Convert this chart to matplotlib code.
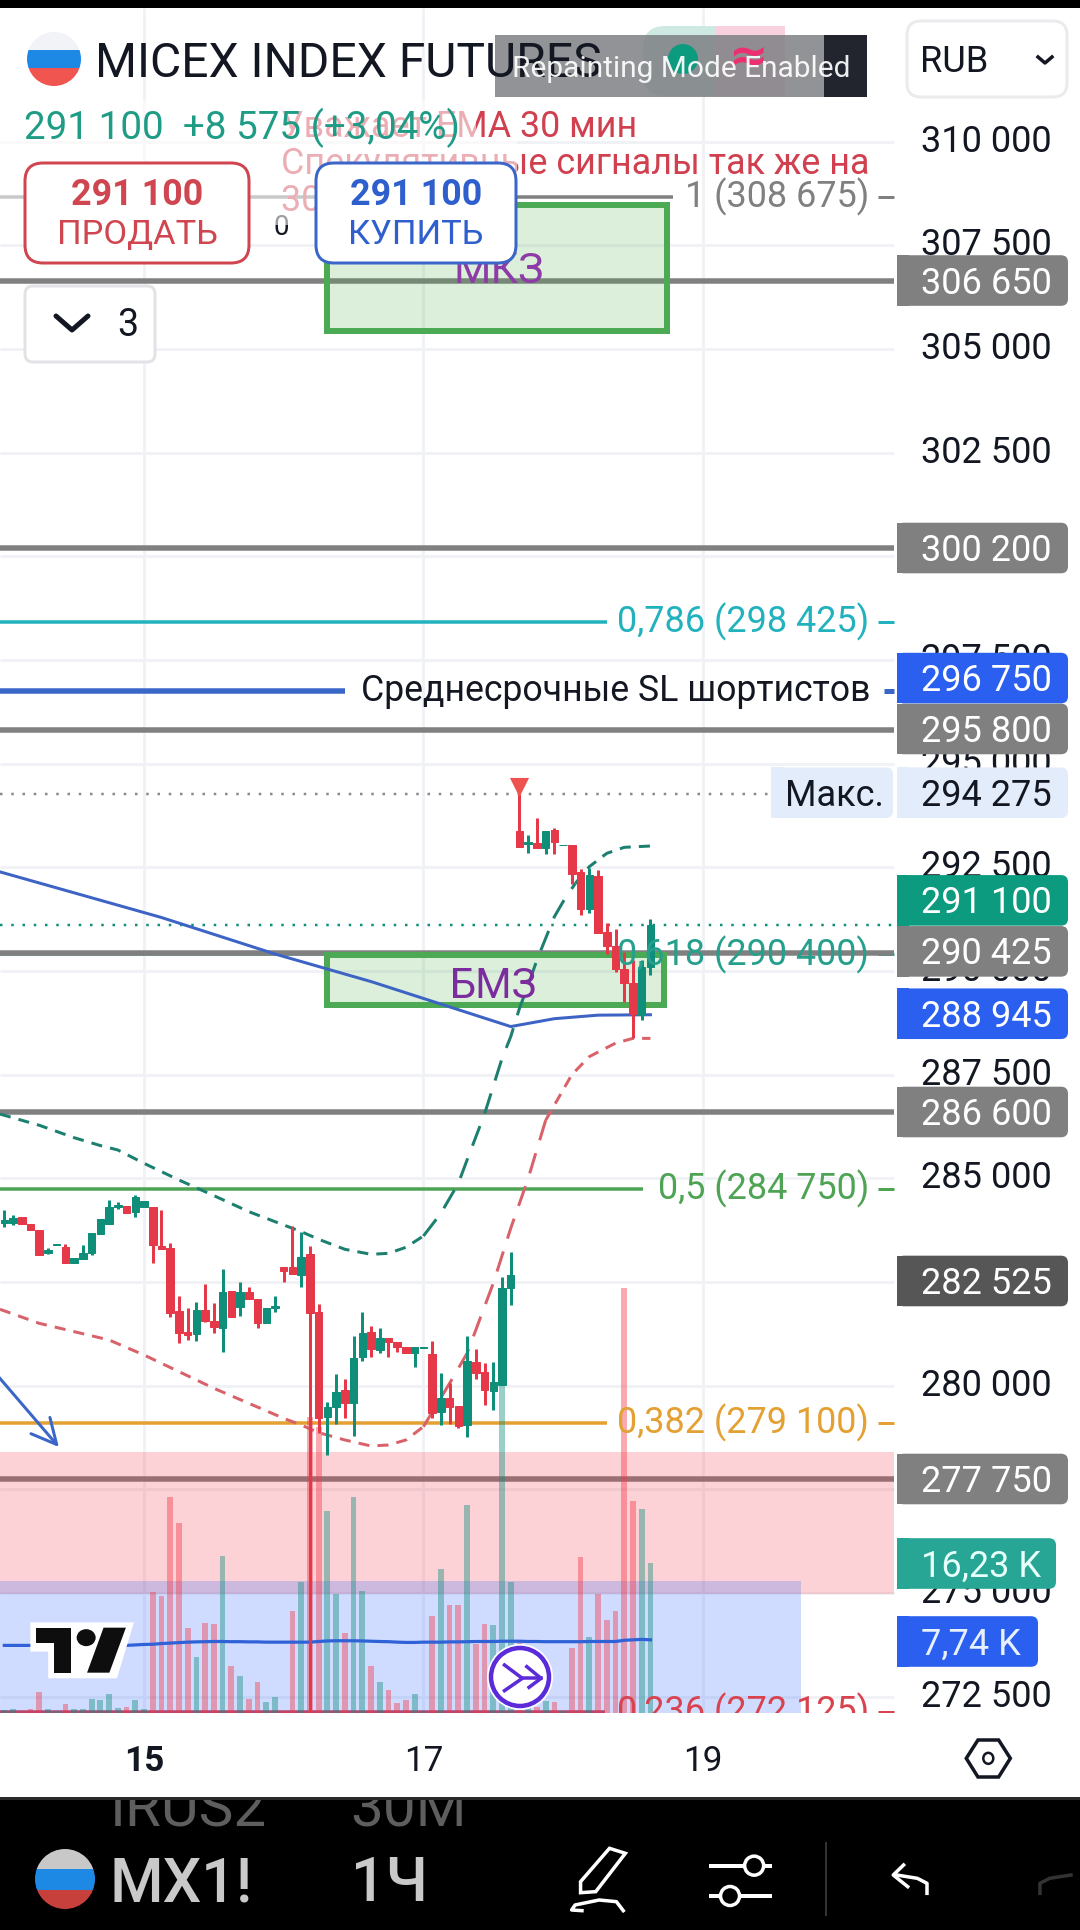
import matplotlib
matplotlib.use("Agg")
import matplotlib.pyplot as plt
from matplotlib.patches import Rectangle, FancyBboxPatch, Ellipse, Polygon, Circle
from matplotlib.transforms import blended_transform_factory, Bbox, TransformedBbox
from matplotlib.ticker import FuncFormatter

plt.rcParams['font.family'] = ['Roboto', 'DejaVu Sans']

# ---------- data ----------
first_bar = -16
opens = [283915,283930,284075,283900,283755,283190,283395,283355,282950,283045,283190,283660,283900,284315,284340,284195,284315,
         284300,283375,283315,281800,281305,281240,281825,281570,281385,282290,281890,282270,282090,281505,281865,
         282870,282855,282670,283170,281770,279255,279495,279895,279575,280685,281305,280860,281145,281060,280940,280780,280910,
         280755,279375,279695,279510,279045,280580,280340,279880,280015,282365,
         293385,293060,293080,292960,293400,293030,293030,292395,291495,292290,290950,290610,290040,289720,288940,290090]
highs = [284235,284115,284075,283900,283755,283315,283410,283410,283070,283395,283675,284010,284480,284440,284340,284600,284460,
         284300,284235,283435,282165,281865,282010,282445,281985,282805,282290,282510,282370,282090,281865,282165,
         282870,283850,283715,283375,281970,279615,280280,280155,281200,281770,281440,281385,281145,281060,280940,280925,280935,
         281085,280300,280055,279510,281200,280875,280555,280580,282630,283225,
         294275,293280,293680,293385,293440,293040,293030,292450,292475,292435,291150,291005,290465,290265,290265,291245]
lows = [283835,283875,283900,283755,283150,283175,283395,282950,282950,283045,283160,283660,283900,284255,284175,284075,284315,
        282965,283290,281665,281040,281100,281085,281545,281265,280820,281650,281690,282090,281385,281505,281785,
        282510,282695,282390,272125,278850,278330,279075,279230,278785,280605,280700,280795,280685,280820,280780,280445,280910,
        279215,279045,279075,278970,278770,280170,279535,279415,280015,281945,
        292980,292855,292960,292820,292820,293030,292100,291350,291405,290925,290410,289985,289260,288375,288820,289905]
closes = [283995,284050,283900,283755,283150,283275,283410,282950,283070,283190,283675,284010,284300,284360,284175,284560,284460,
          283395,283290,281760,281280,281225,281825,281570,281425,282250,281650,282270,282090,281505,281865,281920,
          282775,282695,283110,281760,279230,279495,279855,279575,280660,281265,280885,281145,281045,280940,280780,280925,280935,
          279335,279695,279495,279030,280595,280315,279895,280080,282350,282670,
          292980,293115,292960,293385,293120,293040,292340,291495,292315,290925,290605,290040,289720,288965,290090,291100]
volumes = [0.3,0.4,0.2,0.4,2.3,0.4,0.2,1.0,0.4,0.4,1.5,1.4,2.1,0.5,0.65,1.45,0.4,
           13.1,12.6,23.3,20.5,9.2,6.0,9.7,9.6,17.0,5.1,4.0,1.5,3.3,1.2,1.7,
           0.2,11.0,14.1,32.0,30.9,21.8,12.8,8.6,23.3,13.2,5.1,3.3,2.5,1.1,1.4,2.0,0.2,
           10.5,15.6,11.7,11.7,22.5,7.4,9.6,9.5,35.4,14.1,
           7.6,2.5,0.7,1.3,1.2,0.2,7.0,16.8,8.2,12.8,10.0,11.0,45.9,22.9,22.0,16.23]
volume_ma = [7.3,7.3,7.3,7.3,7.3,7.25,7.25,7.25,7.25,7.25,7.25,7.3,7.3,7.3,7.3,7.35,7.4,
             7.42,7.5,7.55,7.6,7.65,7.68,7.7,7.72,7.72,7.7,7.7,7.68,7.68,7.65,7.65,
             7.65,7.65,7.65,7.65,7.72,7.78,7.8,7.8,7.8,7.78,7.75,7.72,7.7,7.65,7.62,7.62,7.65,
             7.65,7.65,7.68,7.68,7.7,7.72,7.72,7.72,7.75,7.75,
             7.75,7.72,7.72,7.7,7.7,7.7,7.7,7.7,7.72,7.72,7.72,7.72,7.85,7.9,7.95,7.9]

upper_x = [-16.5,-12,-8,-5,-3,0,4,8,12,16,18,20,23,26,28,30,32,34,36,37,39,41,42,43,44,45,46,47,48,49.4,51,53,55,58]
upper_y = [286550,286280,285980,285790,285684,285362,284960,284583,284197,283875,283715,283530,283289,283168,283192,283337,283610,
           284157,284880,285443,286550,287890,288416,289100,289662,290265,290788,291310,291672,292114,292516,292837,292982,293014]
lower_x = [-16.5,-12,-8,-4,0,4,8,12,16,18,20,23,26,28,30,32,35,37,38,40,42,44,46,49,51,54,56,58]
lower_y = [281842,281504,281303,281102,280740,280339,279937,279575,279213,279052,278868,278691,278546,278570,278691,279012,
           280057,280781,281343,282469,283795,284999,286400,287500,287935,288260,288375,288375]
ema_x = [-16.5,2,15,26,42,47,52,58]
ema_y = [292390,291290,290410,289745,288660,288850,288935,288945]

levels_grey = [306650,300200,295800,290425,286600,277750]
level_blue = 296750
high_price = 294275
last_price = 291100
price_ticks = [272500,275000,277500,280000,282500,285000,287500,290000,292500,295000,297500,300000,302500,305000,307500,310000]
day_ticks = [0,32,64]
day_labels = ['15','17','19']

fib_prices = [308675,298425,290400,284750,279100,272125]
fib_texts = ['1 (308 675)','0,786 (298 425)','0,618 (290 400)','0,5 (284 750)','0,382 (279 100)','0,236 (272 125)']
fib_colors = ['#808080','#22B2BE','#26A08C','#4FA355','#E3A033','#D8434F']
fib_line_end = [673,607,620,643,607,605]

mkz_zone = (20.9,59.95,305445,308480)
bmz_zone = (20.9,59.5,289168,290374)
red_zone = (274977,278402)
blue_zone = (272107,275287)

# box labels: price value, text, colour, shift applied by the label-collision logic of the source chart
axis_boxes = [(306650,'306 650','#808080','w',0),(300200,'300 200','#808080','w',0),(296750,'296 750','#2A5FF0','w',-13),
              (295800,'295 800','#808080','w',-1.5),(294275,'294 275','#E3ECFA','#131722',-1),(290425,'290 425','#808080','w',-2),
              (291100,'291 100','#0C9B7E','w',-25),(288945,'288 945','#2A5FF0','w',-1),(286600,'286 600','#808080','w',0),
              (282525,'282 525','#565656','w',0),(277750,'277 750','#808080','w',0)]

GREEN, RED = '#0F8F7A', '#E5394A'
px = 0.72  # points per pixel at 100 dpi
CB = 'center_baseline'

# ---------- axes ----------
W, H = 1080, 1930
fig = plt.figure(figsize=(10.8,19.3), dpi=100, facecolor='white')
rect = [0, (H-1713)/H, 1, 1705/H]
ax = fig.add_axes(rect, zorder=1)
axv = fig.add_axes(rect, zorder=2, facecolor='none')
axc = fig.add_axes(rect, zorder=3, facecolor='none')
ui = fig.add_axes([0,0,1,1], zorder=4, facecolor='none')
ui.set_xlim(0,W); ui.set_ylim(H,0); ui.axis('off')
for a in (ax, axc):
    a.set_xlim(-16.495,107.2); a.set_ylim(272107,313222)
axv.set_xlim(-16.495,107.2); axv.set_ylim(0,184.1)
axv.axis('off'); axc.axis('off')
for s in ax.spines.values():
    s.set_visible(False)

ax.yaxis.tick_right()
ax.set_yticks(price_ticks)
ax.yaxis.set_major_formatter(FuncFormatter(lambda v,_: f'{int(v):,}'.replace(',',' ')))
ax.tick_params(axis='y', direction='in', length=0, pad=-159*px, labelsize=26, labelcolor='#131722')
for t in ax.get_yticklabels():
    t.set_ha('left')
    t.set_va('center')
ax.set_xticks(day_ticks, day_labels)
ax.tick_params(axis='x', direction='in', length=0, pad=32*px, labelsize=25.3, labelcolor='#131722')
ax.get_xticklabels()[0].set_fontweight('bold')

bl = blended_transform_factory(ui.transData, ax.transData)
def py(p):
    return ui.transData.inverted().transform(ax.transData.transform((0,p)))[1]

bars = list(range(first_bar, first_bar+len(opens)))

# grid
ax.hlines(price_ticks, 0, 894, transform=bl, color='#F1F2F5', lw=3*px, zorder=0.6)
ax.vlines(day_ticks, 272107, 313222, color='#F1F2F5', lw=3*px, zorder=0.6)

# horizontal levels
ax.hlines(levels_grey, 0, 894, transform=bl, color='#808080', lw=5.5*px, zorder=1)
for p, c, e in zip(fib_prices, fib_colors, fib_line_end):
    ax.hlines(p, 0, e, transform=bl, color=c, lw=3.5*px, zorder=0.9)
    ax.hlines(p, 878, 894, transform=bl, color=c, lw=3*px, zorder=0.9)
ax.hlines(level_blue, 0, 345, transform=bl, color='#3A66C8', lw=5.5*px, zorder=1)
ax.hlines(level_blue, 884, 894, transform=bl, color='#3A66C8', lw=5*px, zorder=1)

# zones
ax.add_patch(Rectangle((0,red_zone[0]), 894, red_zone[1]-red_zone[0], transform=bl, fc='#F23645', alpha=0.22, ec='none', zorder=1.5))
ax.add_patch(Rectangle((0,blue_zone[0]), 801, blue_zone[1]-blue_zone[0], transform=bl, fc='#2962FF', alpha=0.22, ec='none', zorder=1.5))
for z in (mkz_zone, bmz_zone):
    ax.add_patch(Rectangle((z[0],z[2]), z[1]-z[0], z[3]-z[2], fc=(0.30,0.69,0.31,0.2), ec='#4CAA55', lw=6*px, zorder=1.6))

# volume
vcol = [('#0F8F7A' if c>=o else '#F23645') for o,c in zip(opens,closes)]
axv.bar(bars, volumes, width=0.66, color=vcol, alpha=0.42, lw=0, zorder=1)
axv.plot(bars, volume_ma, color='#2F62D6', lw=3.2*px, zorder=2)

# EMA + bands: dash lengths follow the slope in the source chart
def dashed(xs, ys, color, steep_from, steep_to):
    flat = (0,(3.7,2.7)); steep = (0,(7.0,4.5))
    for lo, hi, ls in [(-99,steep_from,flat),(steep_from,steep_to,steep),(steep_to,999,flat)]:
        sx = [x for x in xs if lo <= x <= hi]
        sy = [y for x,y in zip(xs,ys) if lo <= x <= hi]
        axc.plot(sx, sy, color=color, lw=3*px, ls=ls, zorder=2)
dashed(upper_x, upper_y, '#1D7F70', 32, 49.4)
dashed(lower_x, lower_y, '#D9626A', 32, 46)
axc.plot(ema_x, ema_y, color='#3D63C4', lw=3*px, zorder=2)

# dotted
axc.hlines(high_price, 0, 894, transform=bl, color='#8A8A8A', lw=2.5*px, ls=(0,(1,3.5)), zorder=1)
axc.hlines(last_price, 0, 894, transform=bl, color='#0F8F7A', lw=2.5*px, ls=(0,(1,3.5)), zorder=1)

# candles
ccol = [(GREEN if c>=o else RED) for o,c in zip(opens,closes)]
axc.vlines(bars, lows, highs, color=ccol, lw=3*px, zorder=3)
axc.bar(bars, [abs(c-o) for o,c in zip(opens,closes)], bottom=[min(o,c) for o,c in zip(opens,closes)],
        width=0.86, color=ccol, ec=ccol, lw=1*px, zorder=4)

# high marker
axc.scatter([43],[294430], marker='v', s=190, color='#EF5350', lw=0, zorder=5)

# arrow
axc.annotate('', xy=(-9.75,278520), xytext=(-16.6,280200),
             arrowprops=dict(arrowstyle='->,head_length=1.2,head_width=0.6', mutation_scale=15, color='#3A66C8', lw=3*px, shrinkA=0, shrinkB=0))

# zone / fib text
axc.text(499,306976,'МКЗ', transform=bl, color='#8E3BA8', fontsize=31, ha='center', va=CB, zorder=6)
axc.text(493,289746,'БМЗ', transform=bl, color='#7B2D9E', fontsize=30, ha='center', va=CB, zorder=6)
for p,t,c in zip(fib_prices, fib_texts, fib_colors):
    axc.text(869,p,t,transform=bl,color=c,fontsize=25.9,ha='right',va='center',zorder=6,clip_on=True)
axc.text(361,level_blue,'Среднесрочные SL шортистов',transform=bl,color='#131722',fontsize=25.7,ha='left',va='center',zorder=6)
axc.text(281,308000,'0',transform=bl,color='#131722',fontsize=20,ha='center',va=CB,zorder=6)

# ---------- UI layer ----------
ui.add_patch(Rectangle((0,0),W,8,fc='black',ec='none',zorder=1))

# repainting box
ui.add_patch(FancyBboxPatch((643,26),142,70,boxstyle='round,pad=0,rounding_size=22',fc='#CDE9E2',ec='none',zorder=1))
ui.add_patch(Rectangle((716,26),69,70,fc='#F7D2DE',ec='none',zorder=1.1))
ui.add_patch(Rectangle((495,35),372,62,fc='#7F8084',alpha=0.85,ec='none',zorder=2))
ui.add_patch(Rectangle((824,35),43,62,fc='#22252E',ec='none',zorder=2.1))
ui.add_patch(Circle((683,59),15,fc='#0C9B7E',ec='none',zorder=2.2))
ui.text(749,58,'≈',color='#EC2F6E',fontsize=34,ha='center',va='center',family=['DejaVu Sans'],weight='bold',zorder=2.2)
ui.text(95,59,'MICEX INDEX FUTURES',color='#131722',fontsize=34.6,ha='left',va=CB,zorder=2.3)
ui.text(512,66,'Repainting Mode Enabled',color='white',alpha=0.92,fontsize=21.5,ha='left',va=CB,zorder=2.4)

# flag
def flag(cx,cy,r,ys,cols):
    clip = Ellipse((cx,cy),2*r,2*r,transform=ui.transData)
    for (a,b),c in zip(zip(ys[:-1],ys[1:]),cols):
        p = Rectangle((cx-r,a),2*r,b-a,fc=c,ec='none',zorder=3)
        ui.add_patch(p); p.set_clip_path(clip)
flag(54,59,27,[32,50,68,86],['#F2F3F6','#1E88E5','#F0554F'])

# alert text
ui.text(281,123,'Уважает EMA 30 мин',color='#D0404F',fontsize=25.8,ha='left',va=CB,zorder=3)
ui.text(281,160,'Спекулятивные сигналы так же на',color='#D0404F',fontsize=25.8,ha='left',va=CB,zorder=3)
ui.text(281,197,'30 мин',color='#D0404F',fontsize=25.8,ha='left',va=CB,zorder=3)
ui.add_patch(Rectangle((0,100),476,40,fc='white',alpha=0.58,ec='none',zorder=3.1))
ui.add_patch(Rectangle((0,140),517,85,fc='white',alpha=0.58,ec='none',zorder=3.1))
ui.text(24,123,'291 100  +8 575 (+3,04%)',color='#1E9C85',fontsize=27.8,ha='left',va=CB,zorder=3.2)

# buttons
for (x0,x1,ec,tc,lab) in [(25,249,'#CF4650','#CF4650','ПРОДАТЬ'),(316,516,'#3B66C8','#2F5FCC','КУПИТЬ')]:
    ui.add_patch(FancyBboxPatch((x0,163),x1-x0,100,boxstyle='round,pad=0,rounding_size=18',fc='white',ec=ec,lw=3*px,zorder=4))
    ui.text((x0+x1)/2,191,'291 100',color=tc,fontsize=25.8,weight='bold',ha='center',va=CB,zorder=4.1)
    ui.text((x0+x1)/2,232,lab,color=tc,fontsize=24.8,ha='center',va=CB,zorder=4.1)

# collapse button
ui.add_patch(FancyBboxPatch((25,286),130,76,boxstyle='round,pad=0,rounding_size=8',fc='white',ec='#E2E3E6',lw=3*px,zorder=4))
ui.plot([56,72,88],[316,330,316],color='#131722',lw=5*px,zorder=4.1,solid_capstyle='round')
ui.text(128,322,'3',color='#131722',fontsize=27,ha='center',va=CB,zorder=4.1)

# RUB
ui.add_patch(FancyBboxPatch((907,21),160,76,boxstyle='round,pad=0,rounding_size=14',fc='white',ec='#EBEBEE',lw=3*px,zorder=4))
ui.text(920,58,'RUB',color='#131722',fontsize=26,ha='left',va=CB,zorder=4.1)
ui.plot([1038,1045,1052],[57,63,57],color='#131722',lw=3.5*px,zorder=4.1)

# axis boxes
def box(yc,x1,color,text,tc,x0=897):
    ui.add_patch(FancyBboxPatch((x0,yc-25.3),x1-x0,50.6,boxstyle='round,pad=0,rounding_size=7',fc=color,ec='none',zorder=5))
    ui.add_patch(Rectangle((x0,yc-25.3),12,50.6,fc=color,ec='none',zorder=5))
    ui.text(921 if x0==897 else 785,yc-1,text,color=tc,fontsize=26,ha='left',va=CB,zorder=5.1)
for p,t,c,tc,dy in axis_boxes:
    box(py(p)+dy,1068,c,t,tc)
box(py(high_price)-1,893,'#E3ECFA','Макс.','#131722',x0=771)
box(1563.5,1056,'#27A595','16,23 K','#E6FFFA')
box(1641.5,1038,'#2A5FF0','7,74 K','#E6F0FF')

# TV logo
def z4(x,y): return (x/2.24,1450+y/3)
ui.add_patch(Polygon([z4(*q) for q in [(68,517),(300,517),(262,685),(108,685),(108,605),(68,605)]],fc='white',ec='none',zorder=4))
ui.add_patch(Polygon([z4(*q) for q in [(80,533),(160,533),(160,668),(120,668),(120,578),(80,578)]],fc='#0E0E0E',ec='none',zorder=4.1))
ui.add_patch(Polygon([z4(*q) for q in [(232,533),(282,533),(245,668),(195,668)]],fc='#0E0E0E',ec='none',zorder=4.1))
ui.add_patch(Ellipse(z4(193,563),19,17,fc='#0E0E0E',ec='none',zorder=4.1))

# go-to-realtime icon
ui.add_patch(Circle((520,1677),33,fc='white',ec='none',zorder=4))
ui.add_patch(Circle((520,1677),29,fc='white',ec='#5B2BD9',lw=4.5*px,zorder=4.1))
for seg in ([(1130,645),(1170,685),(1130,722)],[(1170,685),(1212,685)],[(1180,650),(1212,685),(1185,712)]):
    xs,ys = zip(*[z4(*q) for q in seg])
    ui.plot(xs,ys,color='#5B2BD9',lw=3.5*px,zorder=4.2)

# hex settings icon
def z5(x,y): return (x/1.452,1700+y/3)
ui.add_patch(Polygon([z5(*q) for q in [(1403,175),(1420,120),(1450,120),(1467,175),(1450,231),(1420,231)]],fc='white',ec='#131722',lw=3.5*px,zorder=4))
ui.add_patch(Ellipse(z5(1435,175),10,11,fc='white',ec='#131722',lw=2.5*px,zorder=4.1))

# bottom bar
ui.add_patch(Rectangle((0,1797),W,H-1797,fc='black',ec='none',zorder=1))
ui.plot([0,W],[1798,1798],color='#2A2A2A',lw=3*px,zorder=1.1)
clipb = TransformedBbox(Bbox([[0,1800],[W,H]]), ui.transData)
for x,y,t,c in [(110,1805,'IRUS2','#5E5E5E'),(350,1805,'30M','#5E5E5E'),(112,1954,'MOEX','#A0A0A0'),(366,1954,'1Д','#A0A0A0')]:
    tt = ui.text(x,y,t,color=c,fontsize=42,ha='left',va=CB,zorder=2)
    tt.set_clip_box(clipb); tt.set_clip_on(True)
flag(65,1879,30,[1849,1869,1890,1909],['#C8C8C8','#1E88E5','#C8403C'])
ui.text(110,1878,'MX1!',color='#C9C9C9',fontsize=44,weight='medium',ha='left',va=CB,zorder=2)
ui.text(351,1878,'1Ч',color='#C9C9C9',fontsize=44,weight='medium',ha='left',va=CB,zorder=2)
# pencil
ui.add_patch(Polygon([z5(*q) for q in [(843,545),(885,445),(908,460),(865,575),(843,578)]],fc='none',ec='white',lw=3.5*px,zorder=2))
xs,ys = zip(*[z5(*q) for q in [(905,632),(895,605),(870,600),(835,615),(830,630),(845,632)]])
ui.plot(xs,ys,color='white',lw=3.5*px,zorder=2)
# sliders
for yy,xc in [(497,1095),(588,1060)]:
    a,b = z5(1032,yy); c,_ = z5(1118,yy)
    ui.plot([a,c],[b,b],color='white',lw=4*px,zorder=2)
    ui.add_patch(Ellipse(z5(xc,yy),19,19,fc='black',ec='white',lw=3.5*px,zorder=2.1))
# separator
a,b = z5(1200,430); _,c = z5(1200,645)
ui.plot([a,a],[b,c],color='#333333',lw=2*px,zorder=2)
# undo / redo
xs,ys = zip(*[z5(*q) for q in [(1346,580),(1346,550),(1332,535),(1302,525)]])
ui.plot(xs,ys,color='white',lw=3.5*px,zorder=2)
xs,ys = zip(*[z5(*q) for q in [(1312,495),(1297,525),(1318,560)]])
ui.plot(xs,ys,color='white',lw=3.5*px,zorder=2)
xs,ys = zip(*[z5(*q) for q in [(1510,580),(1510,550),(1524,535),(1555,525)]])
ui.plot(xs,ys,color='#333333',lw=3.5*px,zorder=2)

fig.savefig('out.png', dpi=100, facecolor='white')
